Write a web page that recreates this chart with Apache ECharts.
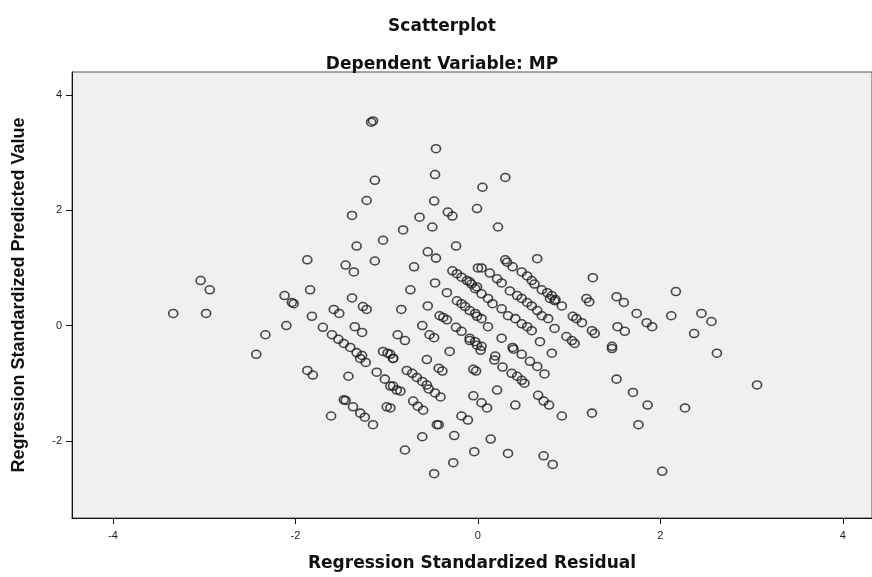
<!DOCTYPE html>
<html>
<head>
<meta charset="utf-8">
<title>Scatterplot</title>
<script src="https://cdn.jsdelivr.net/npm/echarts@6/dist/echarts.min.js"></script>
<style>
  html, body { margin: 0; padding: 0; background: #fff; }
  #chart { width: 872px; height: 577px; }
</style>
</head>
<body>
<div id="chart"></div>
<script>
// Regression Standardized Residual (x) / Predicted Value (y)
var residual = [
  -1.17, -1.15, -0.46, -0.47, -1.13, 0.30, 0.05, -1.22, -0.48, -1.38,
  -0.64, -0.33, -0.28, -0.01, 0.22, -0.50, -0.82, -1.04, -1.33, -0.24,
  -0.55, -0.46, -1.45, -1.36, -1.13, -0.70, -1.87, 0.00, -0.28, -0.23,
  -0.18, -0.12, -0.07, -0.01, -0.47, -0.74, -0.34, -1.84, -1.38, -1.26,
  -1.22, -1.58, -1.52, -1.82, -0.84, -0.55, -0.23, -0.18, -0.14, -0.09,
  -0.03, -0.42, -0.38, -0.34, -0.61, -1.35, -1.27, -1.70, -1.60, -1.53,
  -1.47, -1.40, -1.33, -1.27, -0.88, -0.80, -0.53, -0.48, -0.24, -0.18,
  -0.09, -0.01, -0.31, -1.04, -0.96,
  -3.04, -2.94, -3.34, -2.98, -2.12, -2.04, -2.02, -2.10, -2.33, -2.43,
  0.65, 0.30, 0.32, 1.26, 0.04, 0.13, 0.21, 0.26, 0.38, 0.48,
  0.54, 0.59, 0.62, 0.70, 0.76, 0.81, 0.85, 0.92, -0.09, -0.03,
  0.04, 0.11, 0.16, 0.26, 0.33, 0.41, 0.48, 0.54, 0.59, 0.68,
  0.35, 0.43, 0.48, 0.54, 0.59, 0.65, 0.70, 0.77, 0.84, 0.79,
  0.84, 1.19, 1.22, 1.52, 1.60, 1.04, 1.08, 1.14, 0.97, 1.03,
  1.06, 1.25, 1.28, 1.53, 1.61, 1.47, -0.01, 0.04, 0.11, -0.09,
  -0.03, 0.04, 0.26, 0.38, 0.48, 0.81, 0.19,
  2.17, 1.74, 1.85, 1.91, 2.12, 2.45, 2.56, 2.37, 2.62,
  1.47, 1.52, 1.70, 1.86, 2.27, 1.76, 1.25, 0.92, 3.06,
  -0.93, -0.56, 0.03, 0.39, -0.43, -0.39, -0.05, -0.02, 0.18, 0.27,
  0.37, 0.43, 0.48, 0.51, 0.57, 0.65, 0.73, -0.78, -0.72, -0.67,
  -0.61, -0.56, -0.54, -0.47, -0.41, -0.96, -0.89, -0.85, -0.96, -0.71,
  -0.66, -0.60, -0.43, -0.45, -0.05, 0.04, 0.10, -0.18, -0.11, 0.21,
  0.41, 0.66, 0.72, 0.78, -0.61, -0.26, 0.14, -0.80, -0.27, -0.04,
  0.33, 0.72, 0.82, -0.48, 2.02,
  -1.87, -1.81, -1.42, -1.47, -1.45, -1.37, -1.29, -1.24, -1.15, -1.00,
  -1.61, -1.29, -1.23, -1.11, -1.02, -0.93, -0.99, -0.93
];
var predicted = [
  3.53, 3.55, 3.07, 2.62, 2.52, 2.57, 2.40, 2.17, 2.16, 1.91,
  1.88, 1.97, 1.90, 2.03, 1.71, 1.71, 1.66, 1.48, 1.38, 1.38,
  1.28, 1.17, 1.05, 0.93, 1.12, 1.02, 1.14, 1.00, 0.95, 0.90,
  0.84, 0.78, 0.72, 0.67, 0.74, 0.62, 0.57, 0.62, 0.48, 0.33,
  0.28, 0.28, 0.21, 0.16, 0.28, 0.34, 0.43, 0.38, 0.33, 0.26,
  0.21, 0.17, 0.14, 0.10, 0.00, -0.02, -0.12, -0.03, -0.16, -0.24,
  -0.31, -0.38, -0.47, -0.52, -0.16, -0.26, -0.16, -0.21, -0.03, -0.10,
  -0.26, -0.34, -0.45, -0.45, -0.50,
  0.78, 0.62, 0.21, 0.21, 0.52, 0.40, 0.38, 0.00, -0.16, -0.50,
  1.16, 1.14, 1.10, 0.83, 1.00, 0.91, 0.81, 0.74, 1.02, 0.93,
  0.86, 0.78, 0.72, 0.62, 0.57, 0.52, 0.45, 0.34, 0.76, 0.64,
  0.55, 0.47, 0.38, 0.29, 0.17, 0.12, 0.03, -0.02, -0.09, -0.28,
  0.60, 0.52, 0.47, 0.40, 0.34, 0.26, 0.17, 0.12, -0.05, 0.47,
  0.43, 0.47, 0.41, 0.50, 0.40, 0.16, 0.12, 0.05, -0.19, -0.26,
  -0.31, -0.09, -0.14, -0.02, -0.10, -0.36, 0.16, 0.12, -0.02, -0.22,
  -0.28, -0.36, -0.22, -0.38, -0.50, -0.48, -0.53,
  0.59, 0.21, 0.05, -0.02, 0.17, 0.21, 0.07, -0.14, -0.48,
  -0.40, -0.93, -1.16, -1.38, -1.43, -1.72, -1.52, -1.57, -1.03,
  -0.57, -0.59, -0.43, -0.41, -0.74, -0.79, -0.76, -0.79, -0.60, -0.72,
  -0.83, -0.88, -0.95, -1.00, -0.62, -0.71, -0.84, -0.78, -0.83, -0.90,
  -0.97, -1.03, -1.10, -1.17, -1.24, -1.05, -1.12, -1.14, -1.43, -1.31,
  -1.40, -1.47, -1.72, -1.72, -1.22, -1.34, -1.43, -1.57, -1.64, -1.12,
  -1.38, -1.21, -1.31, -1.38, -1.93, -1.91, -1.97, -2.16, -2.38, -2.19,
  -2.22, -2.26, -2.41, -2.57, -2.53,
  -0.78, -0.86, -0.88, -1.29, -1.30, -1.41, -1.52, -1.59, -1.72, -1.41,
  -1.57, -0.57, -0.64, -0.81, -0.93, -1.05, -0.48, -0.57
];
var xTicks = [-4, -2, 0, 2, 4];
var yTicks = [-2, 0, 2, 4];

var points = residual.map(function (r, i) { return [r, predicted[i]]; });

var chart = echarts.init(document.getElementById('chart'));
var labelFont = '"Liberation Sans", Arial, sans-serif';
var titleFont = '"DejaVu Sans", "Liberation Sans", sans-serif';

chart.setOption({
  animation: false,
  backgroundColor: '#ffffff',
  title: [{
    text: 'Scatterplot',
    left: 437, top: 13, textAlign: 'center',
    textStyle: { fontFamily: titleFont, fontSize: 17, fontWeight: 'bold', color: '#111' }
  }, {
    text: 'Dependent Variable: MP',
    left: 437, top: 51, textAlign: 'center',
    textStyle: { fontFamily: titleFont, fontSize: 17, fontWeight: 'bold', color: '#111' }
  }],
  grid: {
    left: 72, right: 0, top: 72, bottom: 56,
    show: true,
    backgroundColor: '#f0f0f0',
    borderColor: '#555',
    borderWidth: 1
  },
  xAxis: {
    type: 'value',
    min: -4.45, max: 4.32,
    name: 'Regression Standardized Residual',
    nameLocation: 'middle',
    nameGap: 37,
    nameTextStyle: { fontFamily: titleFont, fontSize: 17, fontWeight: 'bold', color: '#111' },
    axisLine: { onZero: false, lineStyle: { color: '#111', width: 1 } },
    axisTick: { show: true, length: 6, customValues: xTicks, lineStyle: { color: '#111' } },
    axisLabel: { customValues: xTicks, fontFamily: labelFont, fontSize: 11, color: '#222', margin: 12 },
    splitLine: { show: false }
  },
  yAxis: {
    type: 'value',
    min: -3.34, max: 4.40,
    name: 'Regression Standardized Predicted Value',
    nameLocation: 'middle',
    nameGap: 44,
    nameTextStyle: { fontFamily: labelFont, fontSize: 18, fontWeight: 'bold', color: '#111' },
    axisLine: { show: true, onZero: false, lineStyle: { color: '#111', width: 1 } },
    axisTick: { show: true, length: 6, customValues: yTicks, lineStyle: { color: '#111' } },
    axisLabel: { customValues: yTicks, fontFamily: labelFont, fontSize: 11, color: '#222', margin: 10 },
    splitLine: { show: false }
  },
  series: [{
    type: 'scatter',
    data: points,
    symbol: 'circle',
    symbolSize: [9, 8],
    itemStyle: {
      color: 'rgba(0,0,0,0)',
      borderColor: '#1e1e1e',
      borderWidth: 1.6
    }
  }]
});
</script>
</body>
</html>
